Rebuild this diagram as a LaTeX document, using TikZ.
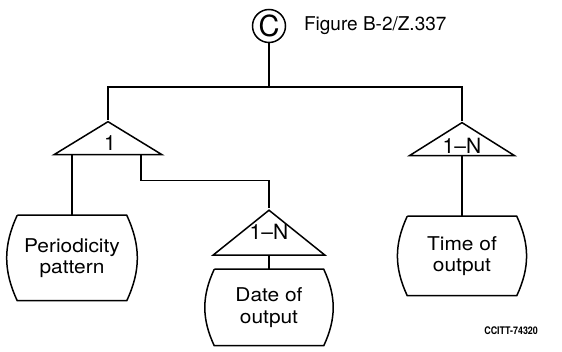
\documentclass[tikz,border=0pt]{standalone}
\usepackage{fontspec}
\setmainfont{TeX Gyre Heros}
\newfontfamily\boxfont[FakeStretch=1.1]{TeX Gyre Heros}
\newfontfamily\reffont[FakeStretch=0.85]{TeX Gyre Heros}
\usetikzlibrary{shapes.geometric}

\begin{document}
\begin{tikzpicture}[x=1pt,y=1pt,line width=1.5pt,
  store/.style={minimum width=108pt, minimum height=80pt, align=center,
    inner sep=0pt, font=\boxfont\fontsize{19}{21.5}\selectfont},
  fork/.style={isosceles triangle, shape border rotate=90, isosceles triangle stretches,
    draw, inner sep=0pt, minimum width=108pt, minimum height=33pt},
  card/.style={font=\fontsize{21}{24}\selectfont}]
\useasboundingbox (0,0) rectangle (562,-352);
\node[circle, draw, minimum size=33pt, inner sep=0pt, font=\fontsize{29}{29}\selectfont] (C) at (269,-26) {C};
\node[anchor=west, font=\fontsize{19}{22}\selectfont] (title) at (300,-26) {Figure B-2/Z.337};
\coordinate (top) at (269,-87);
\node[fork] (ltri) at (108,-139.5) {};
\node[fork, minimum width=105pt, minimum height=33pt] (rtri) at (462,-140.5) {};
\node[fork, minimum width=112pt, minimum height=45pt] (mtri) at (269,-235.5) {};
\node[card] (one) at (110,-143) {1};
\node[card] (rn) at (462,-146) {1--N};
\node[card] (mn) at (269,-232) {1--N};
\node[store, minimum height=84pt] (per) at (72,-258) {Periodicity\\pattern};
\node[store, minimum height=75pt] (date) at (269,-307.5) {Date of\\output};
\node[store, minimum height=78pt] (time) at (462,-256) {Time of\\output};
\node[anchor=east, font=\reffont\bfseries\fontsize{10.5}{12}\selectfont] (ref) at (542,-331) {CCITT-74320};
% outlines of the stores
\foreach \n in {per,date,time}
  \draw (\n.north west) -- (\n.north east) to[bend left=25] (\n.south east)
    -- (\n.south west) to[bend left=25] (\n.north west);
% connectors
\draw (C) -- (top);
\draw (ltri.apex) |- (top) -| (rtri.apex);
\draw (per.north) -- (per.north |- ltri.south);
\draw ([xshift=33pt]ltri.south) |- ([yshift=28pt]mtri.apex) -- (mtri.apex);
\draw (mtri.south) -- (date.north);
\draw (rtri.south) -- (time.north);
\end{tikzpicture}
\end{document}
